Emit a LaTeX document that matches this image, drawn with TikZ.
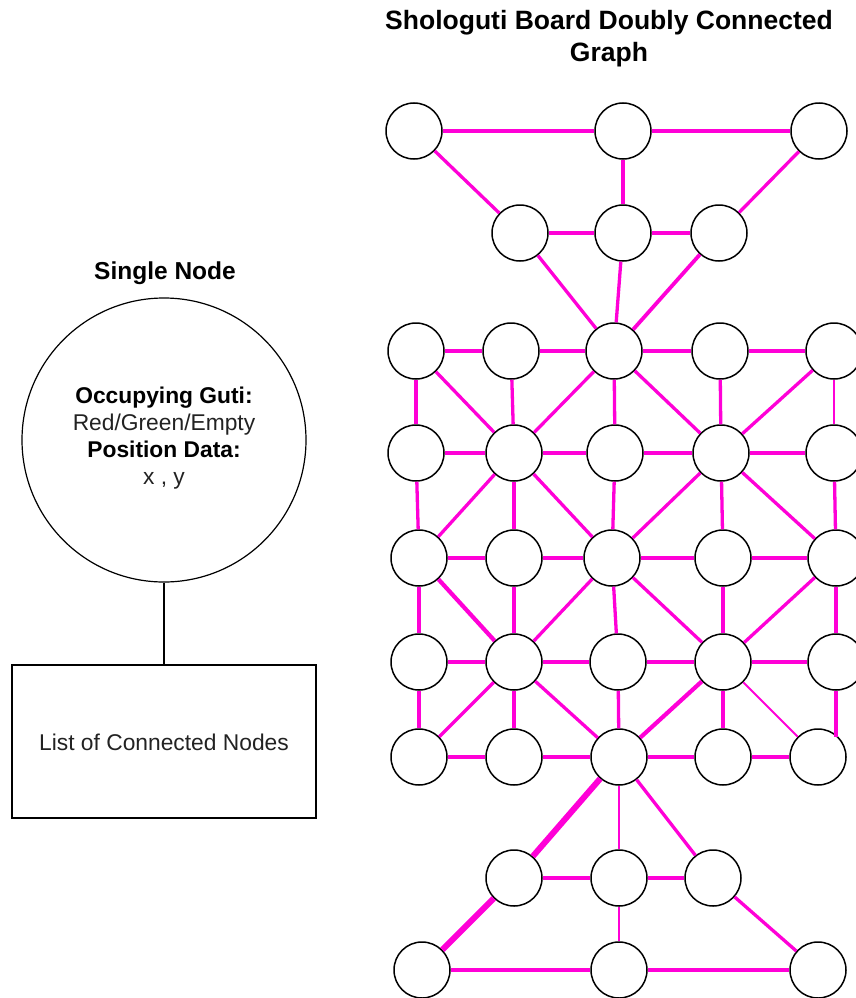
\documentclass[tikz,border=0pt]{standalone}
\usepackage{fontspec}
\setmainfont{Liberation Sans}
\definecolor{mag}{RGB}{255,0,215}
\definecolor{txt}{RGB}{34,34,34}
\tikzset{
  gnode/.style={circle, draw=black, line width=1.5pt, fill=white, minimum size=56pt, inner sep=0pt},
  edge/.style={draw=mag, line width=3.3pt},
  thinedge/.style={draw=mag, line width=1.8pt},
  thickedge/.style={draw=mag, line width=6pt},
  bigcircle/.style={circle, draw=black, line width=1.2pt, minimum size=284pt, inner sep=0pt},
  listbox/.style={rectangle, draw=black, line width=1.2pt, minimum width=304pt, minimum height=153pt, inner sep=0pt},
}
\begin{document}
\begin{tikzpicture}[x=1pt, y=-1pt]
\useasboundingbox (0,0) rectangle (856,998);

% titles
\node[font=\fontsize{26.5}{32}\selectfont\bfseries, align=center] (title) at (609,39) {Shologuti Board Doubly Connected\\Graph};
\node[font=\fontsize{24.5}{28}\selectfont\bfseries] (stitle) at (165,273) {Single Node};

% single node diagram
\node[bigcircle] (big) at (164,440) {};
\node[align=center, font=\fontsize{22.8}{27}\selectfont, text=txt] (bigtext) at (164,438)
  {\textbf{\color{black}Occupying Guti:}\\Red/Green/Empty\\\textbf{\color{black}Position Data:}\\x , y};
\node[listbox] (list) at (164,741.5) {};
\node[font=\fontsize{22.8}{27}\selectfont, text=txt] (listtext) at (164,742) {List of Connected Nodes};
\draw[black, line width=1.2pt] (big.south) -- (list.north);

% board nodes
\node[gnode] (t1) at (414,131) {};
\node[gnode] (t2) at (623,131) {};
\node[gnode] (t3) at (819,131) {};
\node[gnode] (s1) at (520,233) {};
\node[gnode] (s2) at (623,233) {};
\node[gnode] (s3) at (719,233) {};

\node[gnode] (g11) at (416,351) {};
\node[gnode] (g12) at (511,351) {};
\node[gnode] (g13) at (614,351) {};
\node[gnode] (g14) at (720,351) {};
\node[gnode] (g15) at (834,351) {};

\node[gnode] (g21) at (416,453) {};
\node[gnode] (g22) at (514,453) {};
\node[gnode] (g23) at (615,453) {};
\node[gnode] (g24) at (721,453) {};
\node[gnode] (g25) at (834,453) {};

\node[gnode] (g31) at (419,558) {};
\node[gnode] (g32) at (514,558) {};
\node[gnode] (g33) at (612,558) {};
\node[gnode] (g34) at (723,558) {};
\node[gnode] (g35) at (836,558) {};

\node[gnode] (g41) at (419,662) {};
\node[gnode] (g42) at (514,662) {};
\node[gnode] (g43) at (618,662) {};
\node[gnode] (g44) at (723,662) {};
\node[gnode] (g45) at (836,662) {};

\node[gnode] (g51) at (419,757) {};
\node[gnode] (g52) at (514,757) {};
\node[gnode] (g53) at (619,757) {};
\node[gnode] (g54) at (723,757) {};
\node[gnode] (g55) at (818,757) {};

\node[gnode] (b1) at (514,878) {};
\node[gnode] (b2) at (619,878) {};
\node[gnode] (b3) at (713,878) {};
\node[gnode] (c1) at (422,970) {};
\node[gnode] (c2) at (619,970) {};
\node[gnode] (c3) at (818,970) {};

% top triangle
\draw[edge] (t1) -- (t2);
\draw[edge] (t2) -- (t3);
\draw[edge] (t1) -- (s1);
\draw[edge] (t2) -- (s2);
\draw[edge] (t3) -- (s3);
\draw[edge, line width=3.8pt] (s1) -- (s2);
\draw[edge, line width=3.8pt] (s2) -- (s3);
\draw[edge] (s1) -- (g13);
\draw[edge] (s2) -- (g13);
\draw[edge, line width=3.8pt] (s3) -- (g13);

% grid horizontals
\foreach \r in {1,...,5}{
  \draw[edge] (g\r1) -- (g\r2);
  \draw[edge] (g\r2) -- (g\r3);
  \draw[edge] (g\r3) -- (g\r4);
  \draw[edge] (g\r4) -- (g\r5);
}
% grid verticals
\foreach \c in {1,...,4}{
  \draw[edge] (g1\c) -- (g2\c);
  \draw[edge] (g2\c) -- (g3\c);
  \draw[edge] (g3\c) -- (g4\c);
  \draw[edge] (g4\c) -- (g5\c);
}
\draw[thinedge] (g15) -- (g25);
\draw[edge] (g25) -- (g35);
\draw[edge] (g35) -- (g45);
\draw[edge] (g45.south) -- (g45.south |- g55.north east);

% grid diagonals
\draw[edge] (g11) -- (g22);
\draw[edge] (g13) -- (g22);
\draw[edge] (g13) -- (g24);
\draw[edge] (g15) -- (g24);
\draw[edge] (g22) -- (g31);
\draw[edge] (g22) -- (g33);
\draw[edge] (g24) -- (g33);
\draw[edge] (g24) -- (g35);
\draw[edge, line width=4.2pt] (g31) -- (g42);
\draw[edge] (g33) -- (g42);
\draw[edge] (g33) -- (g44);
\draw[edge] (g35) -- (g44);
\draw[edge] (g42) -- (g51);
\draw[edge] (g42) -- (g53);
\draw[edge, line width=4.2pt] (g44) -- (g53);
\draw[thinedge] (g44) -- (g55);

% bottom triangle
\draw[thickedge] (g53) -- (b1);
\draw[thinedge] (g53) -- (b2);
\draw[edge] (g53) -- (b3);
\draw[edge] (b1) -- (b2);
\draw[edge] (b2) -- (b3);
\draw[thickedge] (b1) -- (c1);
\draw[thinedge] (b2) -- (c2);
\draw[edge] (b3) -- (c3);
\draw[edge] (c1) -- (c2);
\draw[edge] (c2) -- (c3);
\end{tikzpicture}
\end{document}
